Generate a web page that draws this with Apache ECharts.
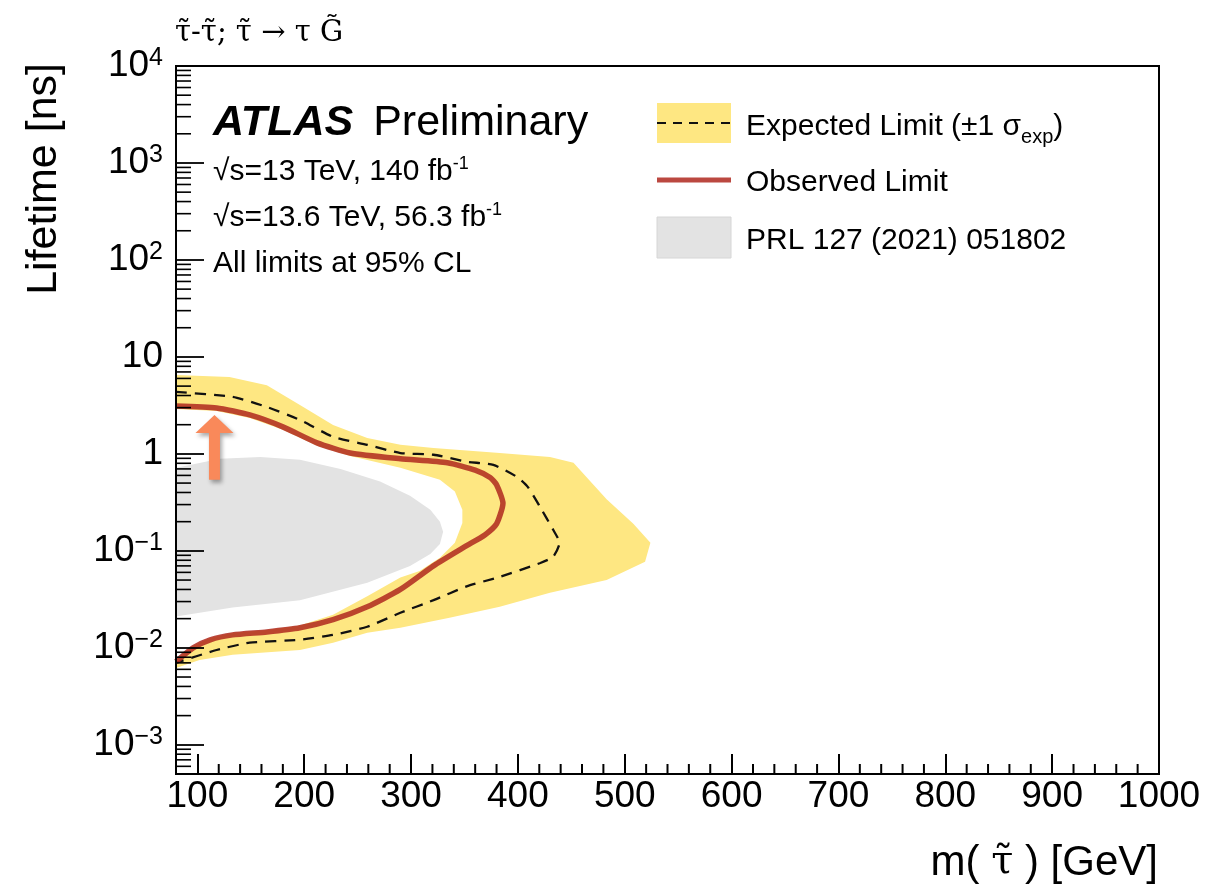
<!DOCTYPE html>
<html>
<head>
<meta charset="utf-8">
<title>Stau lifetime limits</title>
<script src="https://cdn.jsdelivr.net/npm/echarts@6.0.0/dist/echarts.min.js"></script>
<style>
  html, body { margin: 0; padding: 0; background: #fff; }
  #chart { width: 1217px; height: 893px; }
</style>
</head>
<body>
<div id="chart"></div>
<script>
// m(stau) [GeV] against lifetime [ns], contours
const massRange = [80, 1000]
const lifetimeRange = [5e-4, 1e4]

// observed limit, traced clockwise from the top-left corner
const observedLimit = [
  [80, 3.12], [118, 2.98], [149, 2.52], [180, 1.90], [212, 1.30], [243, 1.02],
  [290, 0.89], [334, 0.81], [360, 0.68], [374, 0.57], [380, 0.48], [386, 0.31],
  [380, 0.19], [369, 0.146], [352, 0.113], [321, 0.070], [290, 0.040], [259, 0.0265],
  [227, 0.0195], [196, 0.0161], [165, 0.0146], [133, 0.0136], [112, 0.0121],
  [96, 0.0100], [80, 0.0072]
]
// expected limit (dashed)
const expectedLimit = [
  [80, 4.36], [133, 3.87], [165, 3.05], [196, 2.24], [227, 1.50], [259, 1.24],
  [290, 1.02], [321, 0.98], [352, 0.83], [377, 0.77], [399, 0.58], [409, 0.46],
  [421, 0.28], [433, 0.165], [439, 0.121], [433, 0.087], [421, 0.075], [383, 0.054],
  [352, 0.043], [321, 0.031], [290, 0.023], [259, 0.0165], [227, 0.0136],
  [196, 0.0121], [149, 0.0113], [118, 0.0095], [80, 0.0070]
]
// +-1 sigma band: outer and inner edges
const bandOuter = [
  [80, 6.5], [130, 6.2], [165, 5.1], [196, 3.2], [227, 1.99], [259, 1.46],
  [290, 1.24], [321, 1.15], [383, 1.02], [430, 0.93], [452, 0.81], [483, 0.34],
  [508, 0.19], [524, 0.121], [519, 0.077], [483, 0.050], [430, 0.037], [383, 0.0265],
  [336, 0.0204], [290, 0.0161], [259, 0.0143], [227, 0.0113], [196, 0.0095],
  [133, 0.0085], [102, 0.0075], [80, 0.0062]
]
const bandInner = [
  [80, 2.91], [118, 2.77], [149, 2.35], [180, 1.77], [212, 1.21], [243, 0.95],
  [290, 0.72], [327, 0.54], [341, 0.41], [348, 0.265], [348, 0.194], [341, 0.121],
  [327, 0.085], [308, 0.062], [290, 0.053], [259, 0.034], [227, 0.022], [196, 0.017],
  [165, 0.0153], [133, 0.0143], [112, 0.0127], [96, 0.0105], [80, 0.0075]
]
// PRL 127 (2021) 051802 excluded region
const prlRegion = [
  [80, 0.72], [93, 0.77], [121, 0.89], [159, 0.93], [196, 0.87], [234, 0.70],
  [271, 0.52], [299, 0.37], [318, 0.265], [327, 0.20], [330, 0.157], [327, 0.118],
  [318, 0.093], [299, 0.070], [259, 0.047], [196, 0.031], [133, 0.026], [80, 0.021]
]
// orange arrow
const arrowMass = 116
const arrowLifetime = [0.54, 2.52]

// axis ticks
const xMajorTicks = [100, 200, 300, 400, 500, 600, 700, 800, 900, 1000]
const yMajorExponents = [-3, -2, -1, 0, 1, 2, 3, 4]
const minorMantissas = [2, 3, 4, 5, 6, 7, 8, 9]

const FONT = "'Liberation Sans', Arial, Helvetica, sans-serif"
const SERIF = "'DejaVu Serif', 'Liberation Serif', serif"
const OBS_COLOR = 'rgba(175,40,30,0.85)'
const BAND_COLOR = '#fee782'
const PRL_COLOR = '#e3e3e3'

const yMin = Math.log10(lifetimeRange[0])
const yMax = Math.log10(lifetimeRange[1])
const toLog = pts => pts.map(p => [p[0], Math.log10(p[1])])

const yMinorTicks = []
for (let e = -4; e < 4; e++) {
  minorMantissas.forEach(m => {
    const v = Math.log10(m * Math.pow(10, e))
    if (v >= yMin && v <= yMax) yMinorTicks.push(v)
  })
}
const xMinorTicks = []
for (let m = massRange[0] + 20; m < massRange[1]; m += 20) {
  if (m % 100 !== 0) xMinorTicks.push(m)
}

const bandPoints = toLog(bandOuter).concat(toLog(bandInner).reverse())
const prlPoints = toLog(prlRegion)

function polygonSeries(name, points, style, z) {
  return {
    type: 'custom',
    name: name,
    data: points,
    encode: { x: 0, y: 1 },
    clip: true,
    z: z,
    renderItem(params, api) {
      if (params.dataIndex !== 0) return null
      return {
        type: 'polygon',
        shape: { points: points.map(p => api.coord(p)) },
        style: style
      }
    }
  }
}

function tickSeries(data, horizontal, len) {
  return {
    type: 'custom',
    data: data,
    encode: { x: 0, y: 1 },
    clip: false,
    silent: true,
    z: 12,
    renderItem(params, api) {
      const p = api.coord([api.value(0), api.value(1)])
      return {
        type: 'line',
        shape: horizontal
          ? { x1: p[0], y1: p[1], x2: p[0] + len, y2: p[1] }
          : { x1: p[0], y1: p[1], x2: p[0], y2: p[1] - len },
        style: { stroke: '#000', lineWidth: horizontal ? 1.6 : 2 }
      }
    }
  }
}

const chart = echarts.init(document.getElementById('chart'))

const option = {
  animation: false,
  backgroundColor: '#fff',
  title: {
    text: 'τ̃-τ̃; τ̃ → τ G̃',
    left: 170,
    top: 14,
    textStyle: { fontFamily: SERIF, fontSize: 29, fontWeight: 'normal', color: '#000' }
  },
  grid: {
    left: 176,
    right: 58,
    top: 66,
    bottom: 119,
    show: true,
    borderColor: '#000',
    borderWidth: 2,
    backgroundColor: 'transparent',
    containLabel: false,
    outerBoundsMode: 'none'
  },
  xAxis: {
    type: 'value',
    min: massRange[0],
    max: massRange[1],
    z: 10,
    axisLine: { show: true, onZero: false, lineStyle: { color: '#000', width: 2 } },
    axisTick: {
      show: true,
      inside: true,
      length: 20,
      customValues: xMajorTicks,
      lineStyle: { color: '#000', width: 2 }
    },
    axisLabel: {
      customValues: xMajorTicks,
      fontFamily: FONT,
      fontSize: 37,
      color: '#000',
      margin: 4,
      formatter: v => String(v)
    },
    splitLine: { show: false }
  },
  yAxis: {
    type: 'value',
    min: yMin,
    max: yMax,
    z: 10,
    axisLine: { show: true, onZero: false, lineStyle: { color: '#000', width: 2 } },
    axisTick: {
      show: true,
      inside: true,
      length: 28,
      customValues: yMajorExponents,
      lineStyle: { color: '#000', width: 1.8 }
    },
    axisLabel: {
      customValues: yMajorExponents,
      fontFamily: FONT,
      fontSize: 37,
      lineHeight: 40,
      color: '#000',
      margin: 13,
      formatter(v) {
        const e = Math.round(v)
        if (e === 0) return '1'
        if (e === 1) return '10'
        return '10{sup|' + (e < 0 ? '\u2212' + (-e) : e) + '}'
      },
      rich: {
        sup: { fontFamily: FONT, fontSize: 25, lineHeight: 22, verticalAlign: 'top', color: '#000' }
      }
    },
    splitLine: { show: false }
  },
  series: [
    polygonSeries('Expected Limit (±1 σexp)', bandPoints, { fill: BAND_COLOR }, 2),
    polygonSeries('PRL 127 (2021) 051802', prlPoints, { fill: PRL_COLOR }, 3),
    {
      type: 'line',
      name: 'Expected Limit',
      data: toLog(expectedLimit),
      showSymbol: false,
      symbol: 'none',
      smooth: 0.2,
      z: 4,
      lineStyle: { color: '#111', width: 2.3, type: [11, 8] }
    },
    {
      type: 'line',
      name: 'Observed Limit',
      data: toLog(observedLimit),
      showSymbol: false,
      symbol: 'none',
      smooth: 0.2,
      z: 5,
      lineStyle: { color: OBS_COLOR, width: 5.5 }
    },
    {
      type: 'custom',
      name: 'arrow',
      data: [[arrowMass, Math.log10(arrowLifetime[0]), Math.log10(arrowLifetime[1])]],
      encode: { x: 0, y: [1, 2] },
      z: 6,
      renderItem(params, api) {
        const base = api.coord([api.value(0), api.value(1)])
        const tip = api.coord([api.value(0), api.value(2)])
        const x = tip[0]
        const shaft = 5.5, head = 19, headLen = 18
        const neck = tip[1] + headLen
        return {
          type: 'polygon',
          shape: {
            points: [
              [x - shaft, base[1]], [x - shaft, neck], [x - head, neck], [x, tip[1]],
              [x + head, neck], [x + shaft, neck], [x + shaft, base[1]]
            ]
          },
          style: {
            fill: '#f9895a',
            shadowBlur: 4,
            shadowOffsetX: 2,
            shadowOffsetY: 3,
            shadowColor: 'rgba(0,0,0,0.35)'
          }
        }
      }
    },
    tickSeries(yMinorTicks.map(v => [massRange[0], v]), true, 15),
    tickSeries(xMinorTicks.map(m => [m, yMin]), false, 10)
  ],
  graphic: [
    // axis titles
    {
      type: 'text',
      x: 44,
      y: 63,
      rotation: Math.PI / 2,
      style: { text: 'Lifetime [ns]', fontFamily: FONT, fontSize: 43, fill: '#000', align: 'right', verticalAlign: 'middle' }
    },
    {
      type: 'text',
      x: 1158,
      y: 863,
      style: {
        text: 'm( {tau|τ̃} ) [GeV]',
        fontFamily: FONT, fontSize: 42, lineHeight: 48, fill: '#000', align: 'right', verticalAlign: 'middle',
        rich: { tau: { fontFamily: SERIF, fontSize: 40, lineHeight: 48, fill: '#000' } }
      }
    },
    // ATLAS label block
    {
      type: 'text',
      x: 213,
      y: 123,
      style: {
        text: '{a|ATLAS}{b|Preliminary}',
        verticalAlign: 'middle',
        fill: '#000',
        rich: {
          a: { fontFamily: FONT, fontSize: 43, fontWeight: 'bold', fontStyle: 'italic', fill: '#000' },
          b: { fontFamily: FONT, fontSize: 43, fill: '#000', padding: [0, 0, 0, 20] }
        }
      }
    },
    {
      type: 'text',
      x: 213,
      y: 172,
      style: {
        text: '√s=13 TeV, 140 fb{sup|-1}',
        fontFamily: FONT, fontSize: 30, lineHeight: 34, verticalAlign: 'middle', fill: '#000',
        rich: { sup: { fontFamily: FONT, fontSize: 18, lineHeight: 18, verticalAlign: 'top', fill: '#000' } }
      }
    },
    {
      type: 'text',
      x: 213,
      y: 218,
      style: {
        text: '√s=13.6 TeV, 56.3 fb{sup|-1}',
        fontFamily: FONT, fontSize: 30, lineHeight: 34, verticalAlign: 'middle', fill: '#000',
        rich: { sup: { fontFamily: FONT, fontSize: 18, lineHeight: 18, verticalAlign: 'top', fill: '#000' } }
      }
    },
    {
      type: 'text',
      x: 213,
      y: 264,
      style: { text: 'All limits at 95% CL', fontFamily: FONT, fontSize: 30, verticalAlign: 'middle', fill: '#000' }
    },
    // legend
    { type: 'rect', shape: { x: 657, y: 103, width: 74, height: 40 }, style: { fill: BAND_COLOR } },
    { type: 'line', shape: { x1: 657, y1: 123, x2: 731, y2: 123 }, style: { stroke: '#111', lineWidth: 2, lineDash: [9, 7] } },
    { type: 'line', shape: { x1: 657, y1: 180, x2: 731, y2: 180 }, style: { stroke: OBS_COLOR, lineWidth: 5 } },
    { type: 'rect', shape: { x: 657, y: 217, width: 74, height: 41 }, style: { fill: PRL_COLOR, stroke: '#d6d6d6', lineWidth: 1 } },
    {
      type: 'text',
      x: 746,
      y: 127,
      style: {
        text: 'Expected Limit (±1 σ{sub|exp})',
        fontFamily: FONT, fontSize: 30, lineHeight: 40, verticalAlign: 'middle', fill: '#000',
        rich: { sub: { fontFamily: FONT, fontSize: 20, lineHeight: 22, verticalAlign: 'bottom', fill: '#000' } }
      }
    },
    {
      type: 'text',
      x: 746,
      y: 183,
      style: { text: 'Observed Limit', fontFamily: FONT, fontSize: 30, verticalAlign: 'middle', fill: '#000' }
    },
    {
      type: 'text',
      x: 746,
      y: 241,
      style: { text: 'PRL 127 (2021) 051802', fontFamily: FONT, fontSize: 30, verticalAlign: 'middle', fill: '#000' }
    }
  ]
}

chart.setOption(option)
</script>
</body>
</html>
